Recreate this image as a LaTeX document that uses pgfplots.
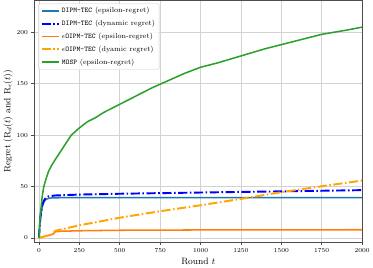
\documentclass[border=0pt]{standalone}
\usepackage{pgfplots}
\pgfplotsset{compat=1.18}
\definecolor{mplblue}{HTML}{1F77B4}
\definecolor{mplorange}{HTML}{FF7F0E}
\definecolor{mplgreen}{HTML}{2CA02C}
\definecolor{dynorange}{HTML}{FFA500}
\begin{document}
\begin{tikzpicture}
\begin{axis}[
  scale only axis,
  width=320bp, height=236bp,
  xmin=-28, xmax=2000,
  ymin=-4, ymax=231,
  xtick={0,250,500,750,1000,1250,1500,1750,2000},
  ytick={0,50,100,150,200},
  xtick pos=lower, ytick pos=left,
  grid=major,
  grid style={gray!35, line width=0.6pt},
  axis line style={gray!60!black, line width=0.8pt},
  tick align=outside,
  tick style={gray!60!black, line width=0.6pt},
  major tick length=3bp,
  tick label style={font=\fontsize{6.5}{7}\selectfont},
  label style={font=\fontsize{9}{10}\selectfont},
  xlabel={Round $t$},
  ylabel={Regret ($\mathrm{R}_d(t)$ and $\mathrm{R}_\epsilon(t)$)},
  xlabel style={yshift=2pt},
  ylabel style={yshift=-3pt},
  scaled x ticks=false,
  xticklabel style={/pgf/number format/.cd, 1000 sep={}},
  legend cell align=left,
  legend style={font=\fontsize{7}{8}\selectfont, draw=gray!40, rounded corners=1.5pt,
    fill=white, fill opacity=0.85, text opacity=1, draw opacity=1, at={(0.012,0.988)}, anchor=north west,
    inner sep=2pt, row sep=1.8pt},
  legend image code/.code={\draw[#1, draw opacity=1] (0pt,0pt) -- (17pt,0pt);},
]
\addplot[mplblue, line width=1.5pt] coordinates {
(0,0) (5,12) (10,20) (20,30) (30,35) (40,37) (50,38) (60,38.5) (80,39) (150,39.2) (500,39.3) (1000,39.3) (2000,39.3)};
\addlegendentry{\texttt{DIPM-TEC} (epsilon-regret)}
\addplot[blue, line width=1.9pt, dash pattern=on 9pt off 2.5pt on 1.5pt off 2.5pt] coordinates {
(0,0) (5,13) (10,22) (20,32) (30,36) (40,38.5) (50,39.5) (60,40.5) (100,41.3) (250,42.2) (500,43) (750,43.6) (1000,44.2) (1250,44.8) (1500,45.3) (1750,45.9) (2000,46.5)};
\addlegendentry{\texttt{DIPM-TEC} (dynamic regret)}
\addplot[mplorange, line width=1.5pt] coordinates {
(0,0) (40,1.8) (75,3.2) (90,4) (100,6) (130,6.5) (250,7) (500,7.5) (1000,7.8) (1500,7.9) (2000,8)};
\addlegendentry{$\epsilon$\texttt{OIPM-TEC} (epsilon-regret)}
\addplot[dynorange, line width=1.9pt, dash pattern=on 9pt off 2.5pt on 1.5pt off 2.5pt] coordinates {
(0,0) (40,1.8) (75,3.3) (90,4.5) (100,7) (115,7.5) (250,12.3) (500,19.7) (750,26) (1000,31.8) (1250,38) (1500,44.5) (1750,50.3) (2000,55.8)};
\addlegendentry{$\epsilon$\texttt{OIPM-TEC} (dyamic regret)}
\addplot[mplgreen, line width=1.5pt] coordinates {
(0,0) (5,15) (10,25) (20,40) (30,50) (45,58) (60,65) (80,71) (100,76) (125,82) (150,88) (175,94) (200,100) (250,107) (300,113) (350,117) (400,122) (500,130) (600,138) (700,146) (800,153) (900,160) (1000,166) (1100,170) (1250,177) (1400,184) (1500,188) (1600,192) (1750,198) (1900,202) (2000,205)};
\addlegendentry{\texttt{MOSP} (epsilon-regret)}
\end{axis}
\end{tikzpicture}
\end{document}
